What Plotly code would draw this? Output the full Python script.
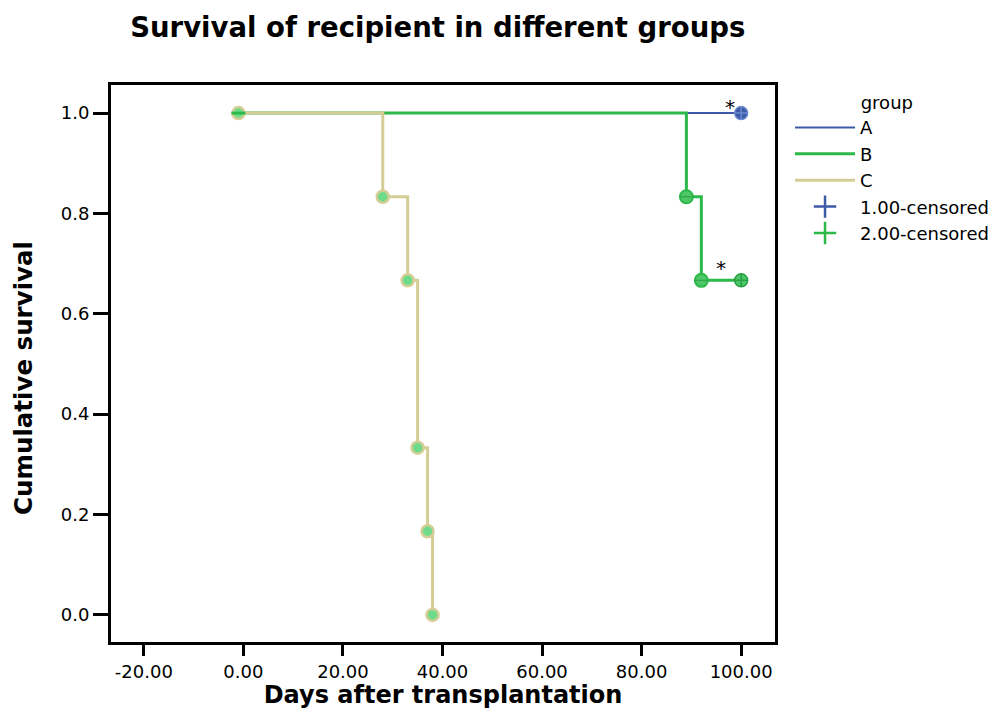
import plotly.graph_objects as go

# ---- data ----
a_days = [-1, 100]
a_surv = [1.0, 1.0]
a_cens_days = [100]
a_cens_surv = [1.0]

b_days = [-1, 89, 92, 100]
b_surv = [1.0, 0.8333, 0.6667, 0.6667]
b_event_days = [89, 92]
b_event_surv = [0.8333, 0.6667]
b_cens_days = [100]
b_cens_surv = [0.6667]

c_days = [-1, 28, 33, 35, 37, 38]
c_surv = [1.0, 0.8333, 0.6667, 0.3333, 0.1667, 0.0]

x_ticks = [-20, 0, 20, 40, 60, 80, 100]
y_ticks = [0.0, 0.2, 0.4, 0.6, 0.8, 1.0]

BLUE = "#3D5AA8"
GREEN = "#2DB84A"
TAN = "#D4CD96"
LGREEN = "#6EDB8A"
FONT = "DejaVu Sans, sans-serif"

fig = go.Figure()

fig.add_trace(go.Scatter(x=a_days, y=a_surv, mode="lines", line=dict(color=BLUE, width=2, shape="hv"), name="A"))
fig.add_trace(go.Scatter(x=b_days, y=b_surv, mode="lines", line=dict(color=GREEN, width=3, shape="hv"), name="B"))
fig.add_trace(go.Scatter(x=c_days, y=c_surv, mode="lines", line=dict(color=TAN, width=3, shape="hv"), name="C"))

fig.add_trace(go.Scatter(x=c_days, y=c_surv, mode="markers", showlegend=False,
                         marker=dict(symbol="circle", size=12, color=LGREEN, line=dict(color=TAN, width=2.5))))
fig.add_trace(go.Scatter(x=c_days[:1], y=c_surv[:1], mode="markers", showlegend=False,
                         marker=dict(symbol="line-ew", size=10, line=dict(color=GREEN, width=3))))
fig.add_trace(go.Scatter(x=b_event_days, y=b_event_surv, mode="markers", showlegend=False,
                         marker=dict(symbol="circle", size=13, color="#4CC868", line=dict(color=GREEN, width=2))))
fig.add_trace(go.Scatter(x=b_event_days, y=b_event_surv, mode="markers", showlegend=False,
                         marker=dict(symbol="line-ew", size=10, line=dict(color="#35A850", width=1.5))))
fig.add_trace(go.Scatter(x=a_cens_days, y=a_cens_surv, mode="markers", showlegend=False,
                         marker=dict(symbol="circle-cross", size=13, color="#3D5AA8",
                                     line=dict(color="#6A8AD0", width=1.5))))
fig.add_trace(go.Scatter(x=b_cens_days, y=b_cens_surv, mode="markers", showlegend=False,
                         marker=dict(symbol="circle-cross", size=13, color="#4CC868",
                                     line=dict(color="#2A9E45", width=1.5))))

fig.add_trace(go.Scatter(x=[None], y=[None], mode="markers", name="1.00-censored",
                         marker=dict(symbol="cross-thin", size=20, line=dict(color=BLUE, width=2.5))))
fig.add_trace(go.Scatter(x=[None], y=[None], mode="markers", name="2.00-censored",
                         marker=dict(symbol="cross-thin", size=20, line=dict(color=GREEN, width=2.5))))

fig.add_annotation(x=a_cens_days[0], y=a_cens_surv[0], text="*", showarrow=False,
                   xshift=-11, yshift=6, font=dict(family=FONT, size=20, color="black"))
fig.add_annotation(x=b_cens_days[0], y=b_cens_surv[0], text="*", showarrow=False,
                   xshift=-20, yshift=12, font=dict(family=FONT, size=20, color="black"))

# y-axis title placed as annotation (offset below plot centre as in reference)
fig.add_annotation(xref="paper", yref="paper", x=-0.131, y=0.474, xanchor="center", yanchor="middle",
                   text="<b>Cumulative survival</b>", textangle=-90, showarrow=False,
                   font=dict(family=FONT, size=24.5, color="black"))

axis_common = dict(showline=True, linecolor="black", linewidth=2.8, mirror=True,
                   ticks="outside", tickwidth=2.8, tickcolor="black",
                   showgrid=False, zeroline=False, automargin=False,
                   tickfont=dict(family=FONT, size=18, color="black"))

fig.update_layout(
    width=995, height=709,
    paper_bgcolor="white", plot_bgcolor="white",
    margin=dict(l=111, r=220, t=85, b=67),
    title=dict(text="<b>Survival of recipient in different groups</b>", x=0.44, xref="container",
               xanchor="center", y=0.962, yanchor="middle",
               font=dict(family=FONT, size=27.5, color="black")),
    xaxis=dict(range=[-26.6, 106.8], tickvals=x_ticks, ticktext=[f"{v:.2f}" for v in x_ticks],
               ticklen=11,
               title=dict(text="<b>Days after transplantation</b>", standoff=11,
                          font=dict(family=FONT, size=24, color="black")),
               **axis_common),
    yaxis=dict(range=[-0.054, 1.056], tickvals=y_ticks, ticktext=[f"{v:.1f}" for v in y_ticks],
               ticklen=15,
               **axis_common),
    legend=dict(xref="container", yref="container", x=0.794, y=0.879, xanchor="left", yanchor="top",
                title=dict(text="            group", font=dict(family=FONT, size=18, color="black")),
                font=dict(family=FONT, size=18, color="black"),
                itemwidth=60, tracegroupgap=0, bgcolor="rgba(0,0,0,0)"),
    showlegend=True,
)

fig.write_html("out.html")
